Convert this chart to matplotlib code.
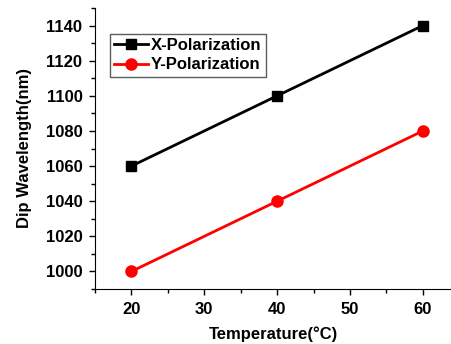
import matplotlib
matplotlib.use("Agg")
import matplotlib.pyplot as plt
from matplotlib.ticker import MultipleLocator

temperature = [20, 40, 60]
x_pol = [1060, 1100, 1140]
y_pol = [1000, 1040, 1080]

plt.rcParams['font.family'] = ['Liberation Sans', 'DejaVu Sans']
plt.rcParams['font.weight'] = 'bold'

fig = plt.figure(figsize=(4.52, 3.44), dpi=100)
ax = fig.add_axes([95/452, 1-289/344, (452-95)/452, (289-8)/344])

ax.plot(temperature, x_pol, color='black', marker='s', markersize=7.5, linewidth=2, label='X-Polarization')
ax.plot(temperature, y_pol, color='red', marker='o', markersize=8, linewidth=2, label='Y-Polarization')

ax.set_xlim(15, 64)
ax.set_ylim(990, 1150)
ax.xaxis.set_major_locator(MultipleLocator(10))
ax.xaxis.set_minor_locator(MultipleLocator(5))
ax.yaxis.set_major_locator(MultipleLocator(20))
ax.yaxis.set_minor_locator(MultipleLocator(10))
ax.spines['top'].set_visible(False)
ax.spines['right'].set_visible(False)
ax.tick_params(which='major', direction='out', length=4, width=1, labelsize=12, pad=5)
ax.tick_params(which='minor', direction='out', length=3, width=1)
for lab in ax.get_xticklabels() + ax.get_yticklabels():
    lab.set_fontweight('bold')

ax.set_xlabel('Temperature(°C)', fontsize=12, fontweight='bold', labelpad=7)
ax.set_ylabel('Dip Wavelength(nm)', fontsize=12, fontweight='bold', labelpad=10)

leg = ax.legend(loc='upper left', bbox_to_anchor=(15/357, 1-26/281), fontsize=12, frameon=True,
                fancybox=False, edgecolor='#333333', borderpad=0.25, handlelength=2.0,
                handletextpad=0.2, labelspacing=0.25, borderaxespad=0)
leg.get_frame().set_linewidth(1)
for t in leg.get_texts():
    t.set_fontweight('bold')

fig.savefig('out.png', dpi=100)
